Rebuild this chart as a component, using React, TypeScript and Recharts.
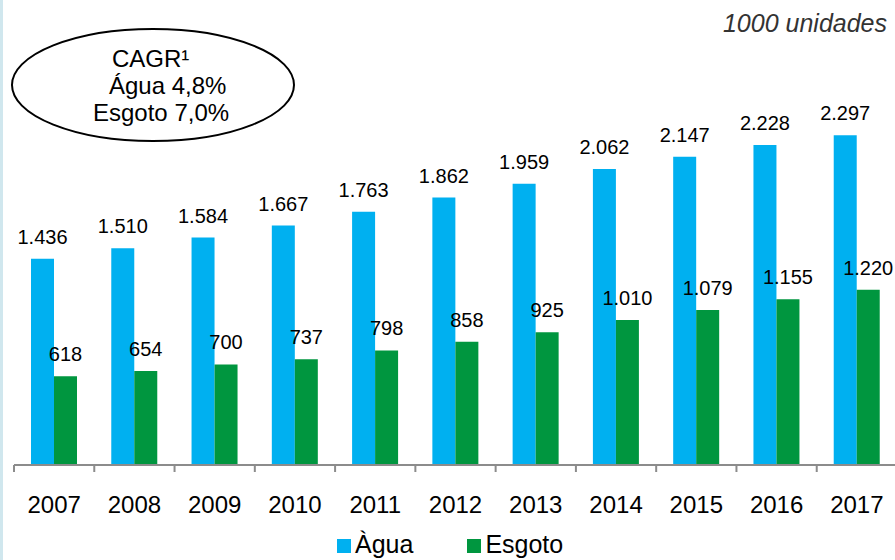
import { Bar, BarChart, LabelList, Legend, XAxis, YAxis } from 'recharts';

const years = ['2007', '2008', '2009', '2010', '2011', '2012', '2013', '2014', '2015', '2016', '2017'];
const agua = [1436, 1510, 1584, 1667, 1763, 1862, 1959, 2062, 2147, 2228, 2297];
const esgoto = [618, 654, 700, 737, 798, 858, 925, 1010, 1079, 1155, 1220];

const seriesNames = ['Àgua', 'Esgoto'];
const cagrLines = ['CAGR¹', 'Água 4,8%', 'Esgoto 7,0%'];
const unitLabel = '1000 unidades';

const FONT = '"Liberation Sans", Arial, sans-serif';
const BLUE = '#00b0f0';
const GREEN = '#00963f';
const AXIS_GRAY = '#8c8c8c';

const CHART_W = 895;
const CHART_H = 560;
const MARGIN = { top: 106, right: -2, bottom: 45, left: 14 };
const BAND = (CHART_W - MARGIN.left - MARGIN.right) / years.length;

const data = years.map((year, i) => ({ year, agua: agua[i], esgoto: esgoto[i] }));

// 1436 -> "1.436"
const formatThousands = (value: number) =>
  String(value).replace(/\B(?=(\d{3})+(?!\d))/g, '.');

const YearTick = (props: any) => {
  const { x, y, payload, index } = props;
  const isLast = index === years.length - 1;
  return (
    <g>
      <line x1={x - BAND / 2} x2={x - BAND / 2} y1={y} y2={y + 7} stroke={AXIS_GRAY} strokeWidth={2} />
      {isLast ? (
        <line x1={x + BAND / 2} x2={x + BAND / 2} y1={y} y2={y + 7} stroke={AXIS_GRAY} strokeWidth={2} />
      ) : null}
      <text x={x} y={y + 48} textAnchor="middle" fontSize={24} fill="#000" fontFamily={FONT}>
        {payload.value}
      </text>
    </g>
  );
};

const renderLegend = (props: any) => {
  const entries = [...(props.payload ?? [])].sort(
    (a: any, b: any) => seriesNames.indexOf(a.value) - seriesNames.indexOf(b.value),
  );
  return (
    <div
      style={{
        display: 'flex',
        alignItems: 'center',
        gap: 54,
        paddingLeft: 337,
        fontFamily: FONT,
        fontSize: 25,
        lineHeight: '30px',
        color: '#000',
      }}
    >
      {entries.map((entry: any) => (
        <div key={entry.value} style={{ display: 'flex', alignItems: 'center', gap: 4 }}>
          <span
            style={{
              width: 14,
              height: 14,
              background: entry.color,
              display: 'inline-block',
              transform: 'translateY(2px)',
            }}
          />
          <span>{entry.value}</span>
        </div>
      ))}
    </div>
  );
};

export default function App() {
  return (
    <div
      style={{
        position: 'absolute',
        left: 0,
        top: 0,
        width: CHART_W,
        height: CHART_H,
        background: '#fff',
        overflow: 'hidden',
      }}
    >
      <BarChart
        width={CHART_W}
        height={CHART_H}
        data={data}
        margin={MARGIN}
        barGap={0}
        barSize={23}
      >
        <XAxis
          dataKey="year"
          height={50}
          axisLine={{ stroke: AXIS_GRAY, strokeWidth: 2 }}
          tickLine={false}
          tickSize={0}
          tickMargin={0}
          interval={0}
          tick={<YearTick />}
        />
        <YAxis hide domain={[0, 2500]} />
        <Legend
          layout="horizontal"
          verticalAlign="middle"
          align="center"
          wrapperStyle={{ top: 529, left: 0, width: CHART_W, height: 30 }}
          content={renderLegend}
        />
        <Bar dataKey="agua" name={seriesNames[0]} fill={BLUE} isAnimationActive={false}>
          <LabelList
            dataKey="agua"
            position="top"
            offset={15}
            formatter={(v: any) => formatThousands(Number(v))}
            fill="#000"
            fontSize={20}
            fontFamily={FONT}
          />
        </Bar>
        <Bar dataKey="esgoto" name={seriesNames[1]} fill={GREEN} isAnimationActive={false}>
          <LabelList
            dataKey="esgoto"
            position="top"
            offset={15}
            formatter={(v: any) => formatThousands(Number(v))}
            fill="#000"
            fontSize={20}
            fontFamily={FONT}
          />
        </Bar>
      </BarChart>

      <svg
        width={CHART_W}
        height={CHART_H}
        style={{ position: 'absolute', left: 0, top: 0, pointerEvents: 'none' }}
      >
        <ellipse cx={153} cy={85} rx={141} ry={56} fill="none" stroke="#000" strokeWidth={2} />
        <text fontFamily={FONT} fontSize={24} fill="#000">
          <tspan x={112} y={67}>{cagrLines[0]}</tspan>
          <tspan x={109} y={94}>{cagrLines[1]}</tspan>
          <tspan x={93} y={121}>{cagrLines[2]}</tspan>
        </text>
        <text
          x={887}
          y={32}
          textAnchor="end"
          fontFamily={FONT}
          fontSize={25}
          fontStyle="italic"
          fill="#333"
        >
          {unitLabel}
        </text>
      </svg>

      <div
        style={{ position: 'absolute', left: 0, top: 0, width: 3, height: CHART_H, background: '#d0e7ee' }}
      />
    </div>
  );
}
